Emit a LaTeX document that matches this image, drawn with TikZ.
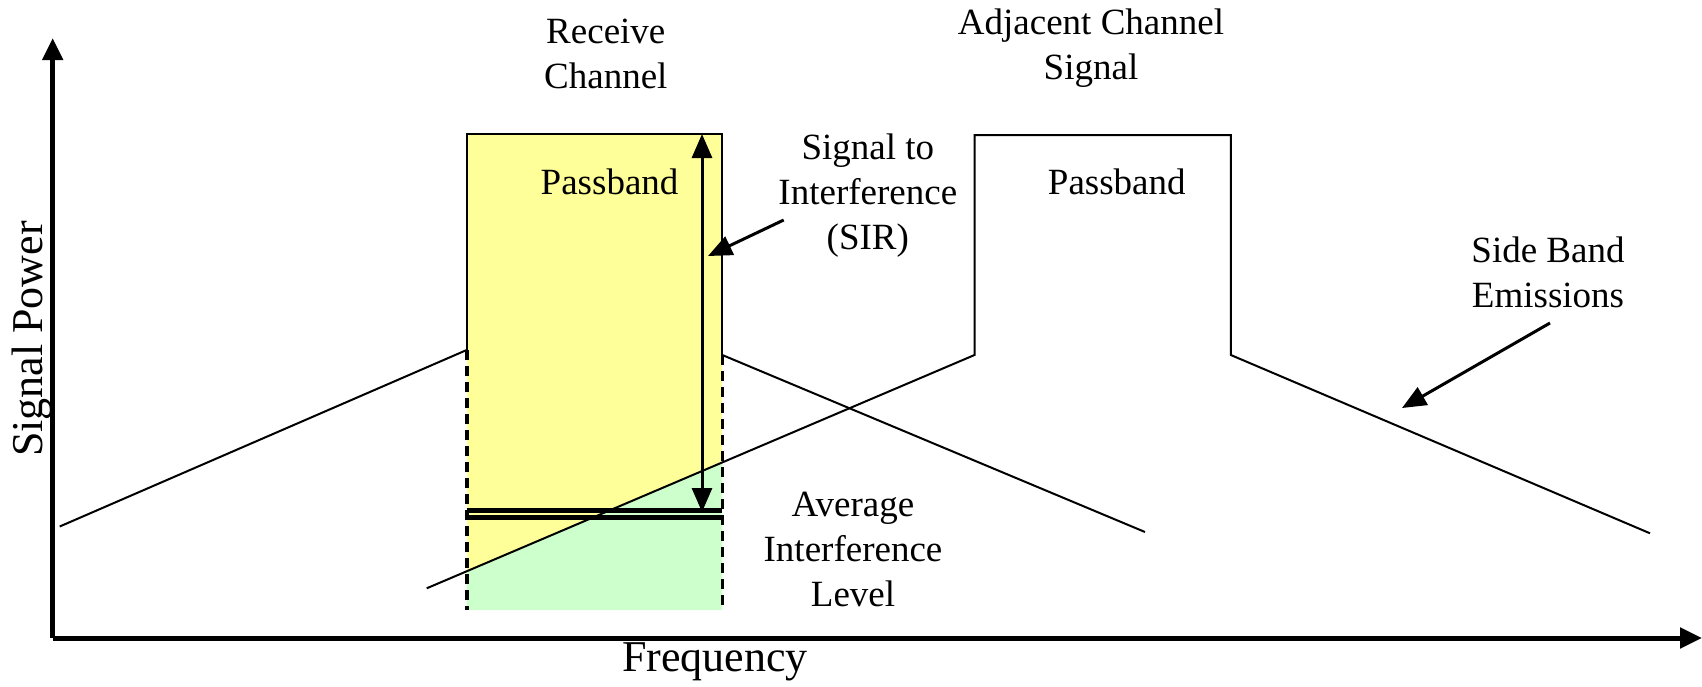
\documentclass[tikz,border=0pt]{standalone}
\usepackage{fontspec}
\setmainfont{Liberation Serif}
\usetikzlibrary{arrows.meta}
\definecolor{passyellow}{HTML}{FFFF99}
\definecolor{intgreen}{HTML}{CCFFCC}
\tikzset{
  lbl/.style={align=center, inner sep=0pt, font=\fontsize{37}{45}\selectfont},
  axislbl/.style={inner sep=0pt, font=\fontsize{44}{50}\selectfont},
  thinline/.style={line width=2pt},
  axisline/.style={line width=5pt, -{Triangle[length=22pt,width=20pt]}},
  dashedside/.style={line width=3.6pt, dash pattern=on 10pt off 6pt},
  pointer/.style={line width=3pt, -{Triangle[length=24pt,width=20pt]}},
  sir/.style={line width=3pt, {Triangle[length=24pt,width=20pt]}-{Triangle[length=24pt,width=20pt]}},
  avgline/.style={line width=4.5pt}
}
\begin{document}
\begin{tikzpicture}[x=1pt,y=-1pt]
\useasboundingbox (0,0) rectangle (1702,686);
% coordinates
\coordinate (O) at (52.7,638);
\coordinate (Ytop) at (52.7,38);
\coordinate (Xend) at (1702,638);
\coordinate (RTL) at (466.7,134);
\coordinate (RTR) at (722.3,134);
\coordinate (RLm) at (466.7,350);
\coordinate (RRm) at (722.3,355);
\coordinate (RBL) at (466.7,610);
\coordinate (RBR) at (722.3,610);
\coordinate (LSstart) at (59.7,526.5);
\coordinate (RSend) at (1145,532);
\coordinate (ALstart) at (426.7,588.3);
\coordinate (ALm) at (974.5,355);
\coordinate (ATL) at (974.5,135);
\coordinate (ATR) at (1230.8,135);
\coordinate (ARm) at (1230.8,355);
\coordinate (ASend) at (1650,533.3);
\coordinate (GL) at (466.7,571.3);
\coordinate (GR) at (722.3,462.4);
\coordinate (SIRtop) at (702,134);
\coordinate (SIRbot) at (702,512);
\coordinate (SIRfrom) at (783.7,220);
\coordinate (SIRtip) at (708,256);
\coordinate (SBfrom) at (1550,323);
\coordinate (SBtip) at (1402,408);
\coordinate (Av1L) at (466.7,510.5);
\coordinate (Av1R) at (722.3,510.5);
\coordinate (Av2L) at (466.7,517.5);
\coordinate (Av2R) at (722.3,517.5);
% fills
\fill[passyellow] (RTL) rectangle (RBR);
\fill[intgreen] (GL) -- (GR) -- (RBR) -- (RBL) -- cycle;
% receive channel box
\draw[thinline] (RLm) -- (RTL) -- (RTR) -- (RRm);
\draw[dashedside] (RLm) -- (RBL);
\draw[dashedside] (RRm) -- (RBR);
% receive sidebands
\draw[thinline] (LSstart) -- (RLm);
\draw[thinline] (RRm) -- (RSend);
% adjacent channel
\draw[thinline] (ALstart) -- (ALm) -- (ATL) -- (ATR) -- (ARm) -- (ASend);
% average interference level
\draw[avgline] (Av1L) -- (Av1R);
\draw[avgline] (Av2L) -- (Av2R);
% SIR arrow
\draw[sir] (SIRtop) -- (SIRbot);
\draw[pointer] (SIRfrom) -- (SIRtip);
\draw[pointer] (SBfrom) -- (SBtip);
% axes
\draw[axisline] (O) -- (Ytop);
\draw[axisline] (O) -- (Xend);
% labels
\node[lbl] (rc) at (605.8,54) {Receive\\Channel};
\node[lbl] (acs) at (1091,48) {Adjacent Channel\\Signal};
\node[lbl] (pb1) at (609.6,182) {Passband};
\node[lbl] (pb2) at (1116.8,182) {Passband};
\node[lbl] (sirl) at (867.8,196) {Signal to\\Interference\\(SIR)};
\node[lbl] (sbe) at (1548,272) {Side Band\\Emissions};
\node[lbl] (ail) at (853,549) {Average\\Interference\\Level};
\node[axislbl] (fq) at (715,662) {Frequency};
\node[axislbl, rotate=90] (sp) at (32,339) {Signal Power};
\end{tikzpicture}
\end{document}
